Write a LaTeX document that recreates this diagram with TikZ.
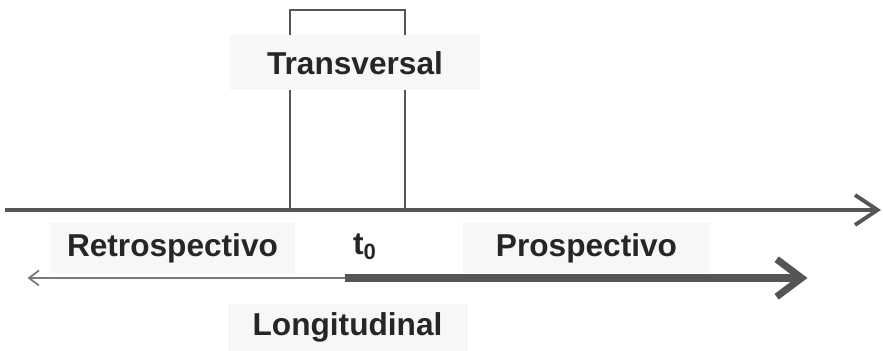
\documentclass[tikz,border=0pt]{standalone}
\usepackage{fontspec}
\setmainfont{Liberation Sans}
\usetikzlibrary{arrows.meta,positioning}
\definecolor{axisgray}{HTML}{555555}
\definecolor{thingray}{HTML}{7a7a7a}
\definecolor{labelbg}{HTML}{F7F7F7}

\tikzset{
    lbl/.style = {fill=labelbg, font=\fontsize{18}{20}\selectfont\bfseries, text=black!85, minimum height=1.1cm, inner sep=0pt},
    timeaxis/.style = {draw=axisgray, line width=2.2pt, -{Straight Barb[length=4.5mm,width=6mm,line width=2.2pt]}},
    box/.style = {draw=axisgray, line width=1.1pt}
}

\begin{document}
\begin{tikzpicture}
        \useasboundingbox (0,0) rectangle (17.66,7.02);

        % time axis and the transversal window
        \coordinate (start) at (0.1,2.82);
        \coordinate (stop) at (17.62,2.82);
        \coordinate (winl) at (5.8,2.82);
        \coordinate (winr) at (8.1,2.82);
        \draw[box] (winl) -- ++(0,4) -| (winr);
        \draw[timeaxis] (start) -- (stop);

        \node[lbl, minimum width=5cm] (trans) at (7.1,5.76) {Transversal};

        % labels under the axis
        \node[lbl, minimum width=4.9cm, minimum height=1cm] (retro) at (3.45,2.06) {Retrospectivo};
        \node[font=\fontsize{18}{20}\selectfont\bfseries, text=black!85] (tzero) at (7.3,2.08) {t\textsubscript{0}};
        \node[lbl, minimum width=4.95cm, minimum height=1cm] (prosp) at (11.73,2.06) {Prospectivo};

        % the two study directions
        \coordinate (split) at (6.9,1.46);
        \coordinate (past) at (0.55,1.46);
        \coordinate (future) at (16.15,1.46);
        \draw[draw=thingray, line width=1pt, -{Straight Barb[length=2mm,width=3mm]}] (split) -- (past);
        \draw[draw=axisgray, line width=4pt, -{Straight Barb[length=5mm,width=7.5mm,line width=4pt]}] (split) -- (future);

        \node[lbl, minimum width=4.8cm, minimum height=0.95cm] (longi) at (6.95,0.47) {Longitudinal};
\end{tikzpicture}
\end{document}
